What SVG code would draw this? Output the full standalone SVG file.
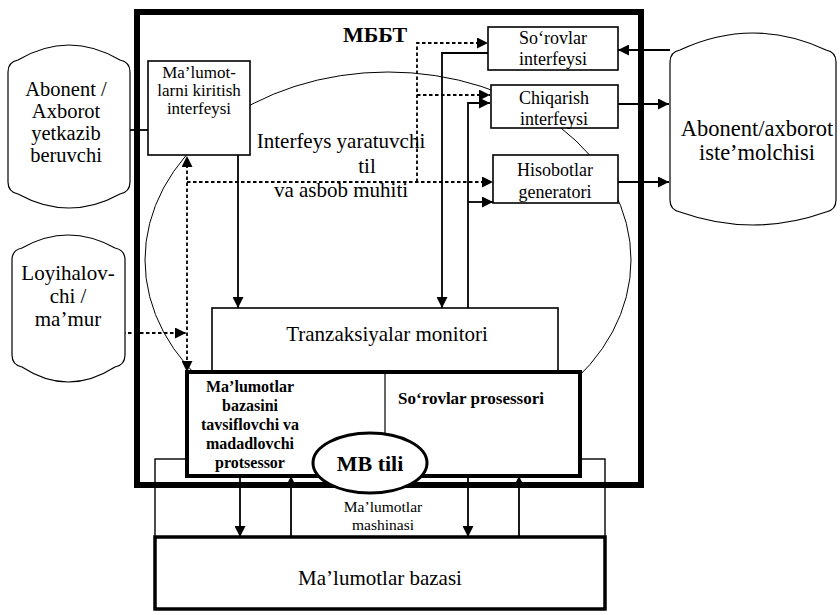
<svg xmlns="http://www.w3.org/2000/svg" width="840" height="615" viewBox="0 0 840 615">
<style>
text{font-family:"Liberation Serif","Times New Roman",serif;fill:#000;text-anchor:middle}
.box{fill:#fff;stroke:#000;stroke-width:1.6}
.cyl{fill:#fff;stroke:#000;stroke-width:1.2}
.ln{fill:none;stroke:#000;stroke-width:1.8}
.dl{fill:none;stroke:#000;stroke-width:1.8;stroke-dasharray:3.5 2.5}
.s17{font-size:17px}
.s18{font-size:18px}
.s20{font-size:20.5px}
.s21{font-size:21px}
</style>
<defs>
<marker id="ah" viewBox="0 0 10 10" refX="10" refY="5" markerWidth="15" markerHeight="11" markerUnits="userSpaceOnUse" orient="auto-start-reverse"><path d="M0,0 L10,5 L0,10 z" fill="#000"/></marker>
</defs>
<rect width="840" height="615" fill="#fff"/>

<g id="ellipse-env">
<ellipse cx="388" cy="260" rx="243" ry="188" fill="none" stroke="#000" stroke-width="1"/>
</g>

<g id="mbbt">
<rect x="137" y="12" width="504" height="473" fill="none" stroke="#000" stroke-width="6"/>
<text x="375" y="42" font-size="22" font-weight="bold">МББТ</text>
</g>

<g id="mashina">
<rect x="155" y="459" width="450" height="78" fill="none" stroke="#000" stroke-width="1.4"/>
<text x="383" y="512" font-size="15.5">Ma’lumotlar</text>
<text x="383" y="530" font-size="15.5">mashinasi</text>
</g>

<g id="connectors">
<line class="ln" x1="130" y1="130" x2="148" y2="130" stroke-width="3"/>
<line class="ln" x1="238" y1="155" x2="238" y2="308" marker-end="url(#ah)"/>
<polyline class="ln" points="488,53 442,53 442,308" marker-end="url(#ah)"/>
<polyline class="ln" points="468,308 468,103 490,103" marker-end="url(#ah)"/>
<line class="ln" x1="468" y1="202" x2="493" y2="202" marker-end="url(#ah)"/>
<line class="ln" x1="670" y1="50" x2="618" y2="50" marker-end="url(#ah)"/>
<line class="ln" x1="618" y1="104" x2="669" y2="104" marker-end="url(#ah)"/>
<line class="ln" x1="618" y1="182" x2="669" y2="182" marker-end="url(#ah)"/>
<line class="dl" x1="187" y1="372" x2="187" y2="156" marker-start="url(#ah)" marker-end="url(#ah)"/>
<line class="dl" x1="187" y1="182" x2="493" y2="182" marker-end="url(#ah)"/>
<polyline class="dl" points="417,182 417,43 488,43" marker-end="url(#ah)"/>
<line class="dl" x1="417" y1="95" x2="490" y2="95" marker-end="url(#ah)"/>
<line class="dl" x1="122" y1="333" x2="186" y2="333" marker-end="url(#ah)"/>
<line class="ln" x1="240" y1="476" x2="240" y2="537" marker-end="url(#ah)"/>
<line class="ln" x1="291" y1="537" x2="291" y2="476" marker-end="url(#ah)"/>
<line class="ln" x1="468" y1="476" x2="468" y2="537" marker-end="url(#ah)"/>
<line class="ln" x1="519" y1="537" x2="519" y2="476" marker-end="url(#ah)"/>
</g>

<g id="abonent-yetkazib">
<path class="cyl" d="M8,72 Q8,62 18,60 Q69,30 120,60 Q130,62 130,72 L130,182 Q130,192 120,194 Q69,222 18,194 Q8,192 8,182 Z"/>
<text class="s20" x="66" y="96">Abonent /</text>
<text class="s20" x="66" y="118">Axborot</text>
<text class="s20" x="66" y="140">yetkazib</text>
<text class="s20" x="66" y="162">beruvchi</text>
</g>

<g id="loyihalovchi">
<path class="cyl" d="M12,260 Q12,250 22,248 Q68,222 115,248 Q125,250 125,260 L125,355 Q125,365 115,367 Q68,397 22,367 Q12,365 12,355 Z"/>
<text x="68" y="280" font-size="21">Loyihalov-</text>
<text x="68" y="303" font-size="21">chi /</text>
<text x="68" y="326" font-size="21">ma’mur</text>
</g>

<g id="abonent-istemolchi">
<path class="cyl" d="M670,62 Q670,52 680,50 Q753,16 826,50 Q836,52 836,62 L836,200 Q836,210 826,212 Q753,238 680,212 Q670,210 670,200 Z"/>
<text x="757" y="136" font-size="22.5">Abonent/axborot</text>
<text x="757" y="160" font-size="22.5">iste’molchisi</text>
</g>

<g id="kiritish">
<rect class="box" x="148" y="61" width="102" height="94"/>
<text class="s17" x="199" y="78">Ma’lumot-</text>
<text class="s17" x="199" y="96">larni kiritish</text>
<text class="s17" x="199" y="114">interfeysi</text>
</g>

<g id="interfeys-til">
<text class="s21" x="341" y="148">Interfeys yaratuvchi</text>
<text class="s21" x="367" y="173">til</text>
<text class="s21" x="341" y="197">va asbob muhiti</text>
</g>

<g id="sorovlar-interfeysi">
<rect class="box" x="488" y="27" width="130" height="43"/>
<text class="s18" x="553" y="44">So‘rovlar</text>
<text class="s18" x="553" y="65">interfeysi</text>
</g>

<g id="chiqarish">
<rect class="box" x="491" y="85" width="127" height="43"/>
<text class="s18" x="554" y="104">Chiqarish</text>
<text class="s18" x="554" y="125">interfeysi</text>
</g>

<g id="hisobotlar">
<rect class="box" x="493" y="155" width="125" height="48"/>
<text class="s18" x="555" y="176">Hisobotlar</text>
<text class="s18" x="555" y="198">generatori</text>
</g>

<g id="tranzaksiyalar">
<rect class="box" x="212" y="308" width="346" height="64" stroke-width="1.3"/>
<text x="387" y="341" font-size="21">Tranzaksiyalar monitori</text>
</g>

<g id="protsessorlar">
<rect x="187" y="372" width="393" height="104" fill="#fff" stroke="#000" stroke-width="4"/>
<line x1="385" y1="374" x2="385" y2="435" stroke="#000" stroke-width="1.2"/>
<text x="250" y="392" font-size="16" font-weight="bold">Ma’lumotlar</text>
<text x="250" y="411" font-size="16" font-weight="bold">bazasini</text>
<text x="250" y="430" font-size="16" font-weight="bold">tavsiflovchi va</text>
<text x="250" y="449" font-size="16" font-weight="bold">madadlovchi</text>
<text x="250" y="468" font-size="16" font-weight="bold">protsessor</text>
<text x="471" y="404" font-size="17" font-weight="bold">So‘rovlar prosessori</text>
</g>

<g id="mb-tili">
<ellipse cx="370" cy="463" rx="57" ry="30" fill="#fff" stroke="#000" stroke-width="3"/>
<text x="370" y="471" font-size="22" font-weight="bold">MB tili</text>
</g>

<g id="malumotlar-bazasi">
<rect x="155" y="537" width="450" height="72" fill="#fff" stroke="#000" stroke-width="3.5"/>
<text x="380" y="585" font-size="21">Ma’lumotlar bazasi</text>
</g>
</svg>
